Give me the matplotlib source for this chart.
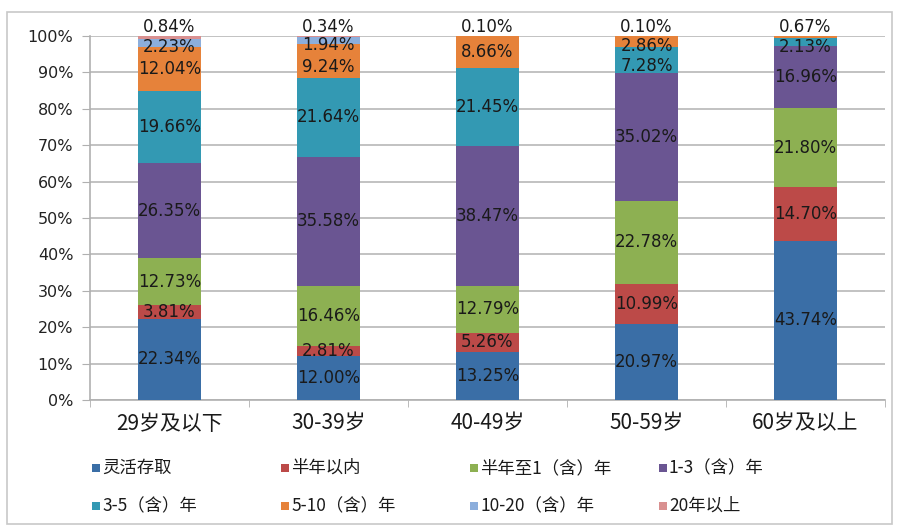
import matplotlib
matplotlib.use("Agg")
import matplotlib.pyplot as plt
from matplotlib.patches import Rectangle
import numpy as np

plt.rcParams['font.family'] = ['Noto Sans CJK SC', 'DejaVu Sans']

categories = ["29岁及以下", "30-39岁", "40-49岁", "50-59岁", "60岁及以上"]
series_names = ["灵活存取", "半年以内", "半年至1（含）年", "1-3（含）年",
                "3-5（含）年", "5-10（含）年", "10-20（含）年", "20年以上"]
s_flexible = [22.34, 12.00, 13.25, 20.97, 43.74]
s_half = [3.81, 2.81, 5.26, 10.99, 14.70]
s_half_1 = [12.73, 16.46, 12.79, 22.78, 21.80]
s_1_3 = [26.35, 35.58, 38.47, 35.02, 16.96]
s_3_5 = [19.66, 21.64, 21.45, 7.28, 2.13]
s_5_10 = [12.04, 9.24, 8.66, 2.86, 0.67]
s_10_20 = [2.23, 1.94, 0.10, 0.10, 0.0]
s_20p = [0.84, 0.34, 0.0, 0.0, 0.0]
yticks = [0, 10, 20, 30, 40, 50, 60, 70, 80, 90, 100]

series = [s_flexible, s_half, s_half_1, s_1_3, s_3_5, s_5_10, s_10_20, s_20p]
colors = ['#3A6EA6', '#BC4A48', '#8DB052', '#6A5592', '#3399B3',
          '#E6823A', '#8CAEDC', '#D99090']

W, H = 898, 528
fig = plt.figure(figsize=(W / 100, H / 100), dpi=100)
fig.patch.set_facecolor('white')

# outer frame
fig.patches.append(Rectangle((7 / W, 4 / H), 885 / W, 512 / H, transform=fig.transFigure,
                             fill=False, edgecolor='#c8c8c8', linewidth=1.2))

ax = fig.add_axes([90 / W, (H - 400) / H, 795 / W, 364 / H])
x = np.arange(len(categories))
bottom = np.zeros(len(categories))
bw = 0.40
for vals, col in zip(series, colors):
    v = np.array(vals)
    ax.bar(x, v, bw, bottom=bottom, color=col, zorder=3, linewidth=0)
    bottom = bottom + v

# data labels
for i in range(len(categories)):
    vals = [s[i] for s in series]
    nz = [k for k, v in enumerate(vals) if v > 0]
    top_k = nz[-1]
    small_top = vals[top_k] < 1.5
    cum = 0.0
    for k, v in enumerate(vals):
        if v > 0:
            yy = cum + v / 2
            if k == top_k and small_top:
                yy = 102.5
            elif k == top_k - 1 and small_top and v < 3.5:
                yy -= 1.2
            elif (k == top_k - 2 and small_top and vals[top_k - 1] < 3.5
                  and v < 10):
                yy -= 1.6
            ax.text(x[i], yy, f"{v:.2f}%", ha='center', va='center', fontsize=12,
                    family='DejaVu Sans', color='#1a1a1a', zorder=5, clip_on=False)
        cum += v

ax.set_xlim(-0.5, len(categories) - 0.5)
ax.set_ylim(0, 100)
ax.set_yticks(yticks)
ax.set_yticklabels([f"{t}%" for t in yticks], fontsize=11.5, family='DejaVu Sans',
                   color='#222222')
ax.yaxis.grid(True, color='#b8b8b8', linewidth=1.2, zorder=0)
ax.set_axisbelow(True)
ax.tick_params(axis='y', length=6, color='#b0b0b0', pad=6)

ax.set_xticks(x)
ax.set_xticklabels(categories, fontsize=15, color='#1a1a1a')
ax.set_xticks(np.arange(-0.5, len(categories), 1.0), minor=True)
ax.tick_params(axis='x', which='major', length=0, pad=9)
ax.tick_params(axis='x', which='minor', length=5, color='#b0b0b0')

for sp in ['top', 'right']:
    ax.spines[sp].set_visible(False)
for sp in ['left', 'bottom']:
    ax.spines[sp].set_color('#b0b0b0')
    ax.spines[sp].set_linewidth(1.2)

# legend (manual grid, 4 columns x 2 rows)
for k, (name, col) in enumerate(zip(series_names, colors)):
    r, c = divmod(k, 4)
    px = 92 + c * 189
    py = 468 + r * 38
    fig.patches.append(Rectangle((px / W, (H - py - 4) / H), 8 / W, 8 / H,
                                 transform=fig.transFigure, facecolor=col,
                                 edgecolor='none'))
    fig.text((px + 10) / W, (H - py) / H, name, fontsize=12.5, va='center',
             ha='left', color='#1a1a1a')

fig.savefig("out.png", dpi=100)
